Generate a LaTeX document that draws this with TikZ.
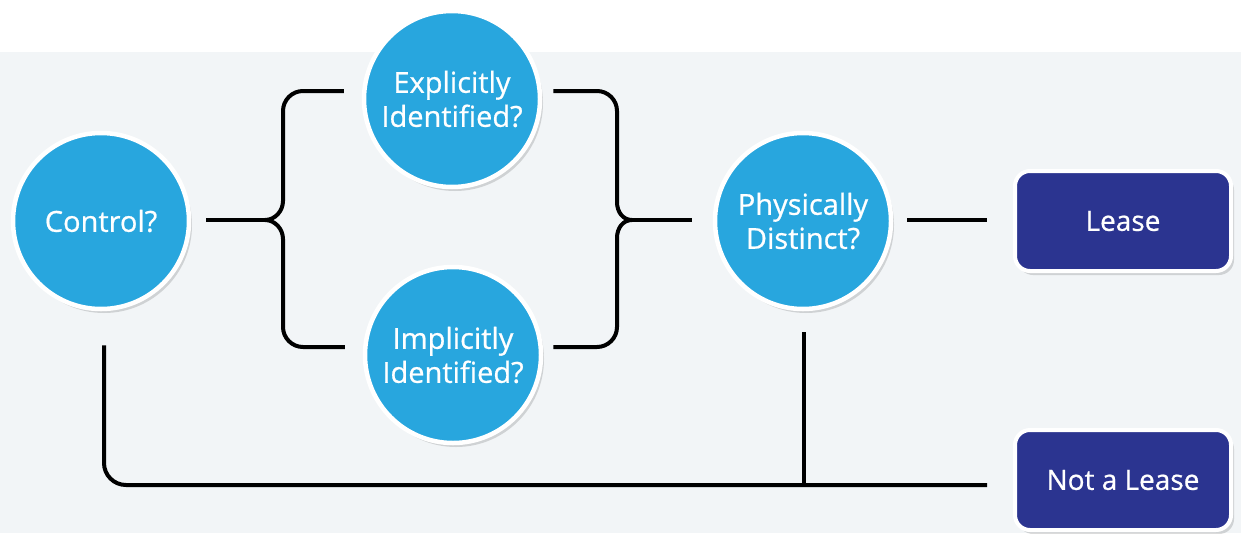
\documentclass[tikz,border=0pt]{standalone}
\usepackage{fontspec}
\setmainfont{Open Sans}
\newfontfamily\lblfont[FakeBold=0.7]{Open Sans}
\usetikzlibrary{calc,shadows}
\definecolor{bandgray}{HTML}{F2F5F7}
\definecolor{qblue}{HTML}{28A6DE}
\definecolor{navy}{HTML}{2B3490}
\tikzset{
  question/.style={circle, fill=qblue, draw=white, line width=4.5pt,
    minimum size=176pt, inner sep=0pt, text=white, align=center,
    font=\lblfont\fontsize{29}{34}\selectfont,
    drop shadow={shadow xshift=3pt, shadow yshift=-4pt, opacity=0.14, fill=black}},
  outcome/.style={rectangle, rounded corners=15pt, fill=navy, draw=white, line width=4pt,
    minimum width=216pt, minimum height=100pt, inner sep=0pt, text=white, align=center,
    font=\lblfont\fontsize{28}{33}\selectfont,
    drop shadow={shadow xshift=3pt, shadow yshift=-4pt, opacity=0.14, fill=black}},
  conn/.style={draw=black, line width=4pt, line join=round}
}
\begin{document}
\begin{tikzpicture}[x=1pt,y=-1pt]
\useasboundingbox (0,0) rectangle (1241,533);
\fill[white] (0,0) rectangle (1241,533);
\fill[bandgray] (0,52) rectangle (1241,533);

% nodes
\node[question] (ctrl) at (101,221) {Control?};
\node[question] (expl) at (452,99) {Explicitly\\Identified?};
\node[question] (impl) at (453,355) {Implicitly\\Identified?};
\node[question] (phys) at (803,221) {Physically\\Distinct?};
\node[outcome] (lease) at (1123,221) {Lease};
\node[outcome] (nal) at (1123,480) {Not a Lease};

% coordinates for connector ends
\coordinate (cOut) at ($(ctrl.east)+(15,-1)$);
\coordinate (tipL) at (265,220);
\coordinate (eInT) at ($(expl.west)+(-18,-8)$);
\coordinate (iInB) at ($(impl.west)+(-18,-8)$);
\coordinate (eOutT) at ($(expl.east)+(11,-8)$);
\coordinate (iOutB) at ($(impl.east)+(10,-8)$);
\coordinate (tipR) at (632,220);
\coordinate (pIn) at ($(phys.west)+(-21,-1)$);
\coordinate (pOut) at ($(phys.east)+(14,-1)$);
\coordinate (lIn) at ($(lease.west)+(-26,-1)$);
\coordinate (cDown) at ($(ctrl.south)+(3,34)$);
\coordinate (pDown) at ($(phys.south)+(1,21)$);
\coordinate (nIn) at ($(nal.west)+(-26,5)$);

% left brace
\draw[conn] (eInT) -- (303,91)
  .. controls (292,91) and (283,100) .. (283,111)
  -- (283,201)
  .. controls (283,211) and (275,220) .. (tipL)
  .. controls (275,220) and (283,229) .. (283,239)
  -- (283,327)
  .. controls (283,338) and (292,347) .. (303,347)
  -- (iInB);
\draw[conn] (cOut) -- (tipL);

% right brace
\draw[conn] (eOutT) -- (597,91)
  .. controls (608,91) and (617,100) .. (617,111)
  -- (617,202)
  .. controls (617,212) and (623,220) .. (tipR)
  .. controls (623,220) and (617,228) .. (617,238)
  -- (617,327)
  .. controls (617,338) and (608,347) .. (597,347)
  -- (iOutB);
\draw[conn] (tipR) -- (pIn);

% Physically to Lease
\draw[conn] (pOut) -- (lIn);

% Not a Lease paths
\draw[conn, rounded corners=22pt] (cDown) -- (cDown |- nIn) -- (nIn);
\draw[conn] (pDown) -- (pDown |- nIn);
\end{tikzpicture}
\end{document}
